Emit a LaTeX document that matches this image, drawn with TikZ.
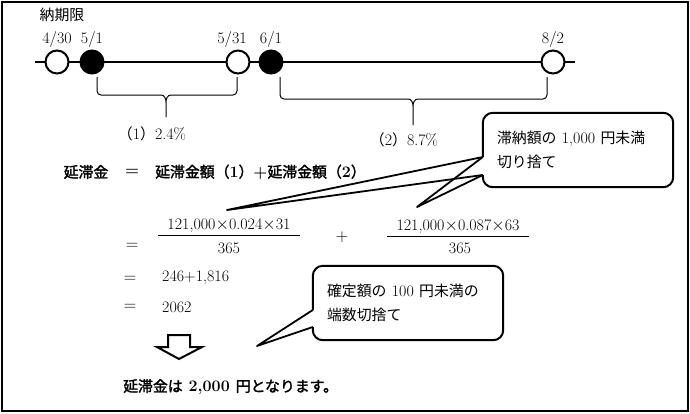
\documentclass[tikz,border=0pt]{standalone}
\usepackage{fontspec}
\usepackage{amsmath}
\usetikzlibrary{positioning, calc}
\newfontfamily\jp{Noto Sans CJK JP}[AutoFakeBold=2, Scale=0.93]

\begin{document}
\begin{tikzpicture}[x=1pt, y=-1pt,
  every node/.style={font=\fontsize{16}{18}\selectfont, inner sep=2pt},
  bold/.style={font=\fontsize{16}{18}\selectfont\bfseries},
  openday/.style={circle, draw, line width=2pt, fill=white, minimum size=23pt, inner sep=0pt},
  fullday/.style={openday, fill=black},
  note/.style={font=\fontsize{16}{24}\selectfont, align=left, text width=162pt, inner sep=14pt, minimum height=74pt},
  callout/.style={line width=2pt, rounded corners=10pt},
  pointer/.style={line width=1.8pt, line join=round}]
\useasboundingbox (0,0) rectangle (690,413);
% frame
\draw[line width=2.2pt] (2,2) rectangle (688,411);
% time line
\coordinate (tstart) at (35,62);
\coordinate (tend) at (575,62);
\draw[line width=1.8pt] (tstart) -- (tend);
\node[openday] (d430) at (57,62) {};
\node[fullday] (d501) at (92,62) {};
\node[openday] (d531) at (238,62) {};
\node[fullday] (d601) at (271,62) {};
\node[openday] (d802) at (553,62) {};
\node[above=0pt of d430] (l430) {4/30};
\node[above=0pt of d501] (l501) {5/1};
\node[above=0pt of d531, xshift=-6pt] (l531) {5/31};
\node[above=0pt of d601] (l601) {6/1};
\node[above=0pt of d802] (l802) {8/2};
\node (due) at (62,15) {\jp 納期限};
% periods
\draw[line width=1pt] (97,77) -- (97,91) to[out=-90,in=180] (101,95) -- (161,95) to[out=0,in=90] (166,102) -- (166,117) coordinate (b1m)
  (166,102) to[out=90,in=180] (171,95) -- (233,95) to[out=0,in=-90] (237,91) -- (237,77);
\node (rate1) at (152,134) {{\jp （}1{\jp ）}2.4\%};
\draw[line width=1pt] (280,77) -- (280,95) to[out=-90,in=180] (284,99) -- (408,99) to[out=0,in=90] (413,106) -- (413,125) coordinate (b2m)
  (413,106) to[out=90,in=180] (418,99) -- (543,99) to[out=0,in=-90] (547,95) -- (547,77);
\node (rate2) at (404,140) {{\jp （}2{\jp ）}8.7\%};
% calculation
\node[bold] (lhs) at (86,172) {\jp 延滞金};
\node[bold] (eq0) at (132,172) {=};
\node[bold, anchor=west] (rhs) at (153,172) {{\jp 延滞金額（}1{\jp ）}+{\jp 延滞金額（}2{\jp ）}};
\node (eq1) at (132,246) {$=$};
\node (num1) at (229,226) {121,000$\times$0.024$\times$31};
\node (den1) at (229,248) {365};
\draw[line width=1pt] ([xshift=-7pt]num1.south west) -- ([xshift=7pt]num1.south east);
\node (plus) at (342,237) {$+$};
\node (num2) at (458,227) {121,000$\times$0.087$\times$63};
\node (den2) at (460,248) {365};
\draw[line width=1pt] ([xshift=-7pt]num2.south west) -- ([xshift=7pt]num2.south east);
\node (eq2) at (130,279) {$=$};
\node[anchor=west] (sum) at (160,278) {246+1,816};
\node (eq3) at (130,307) {$=$};
\node[anchor=west] (res) at (160,307) {2062};
% down arrow
\draw[line width=2pt, line join=miter] (168,335) -- (190,335) -- (190,347) -- (202,347) -- (179,359) -- (157,347) -- (168,347) -- cycle;
\node[bold, anchor=west] (final) at (121,387) {{\jp 延滞金は} 2,000 {\jp 円となります。}};
% callouts
\node[note] (note1) at (578,150) {{\jp 滞納額の} 1,000 {\jp 円未満}\\{\jp 切り捨て}};
\coordinate (tip1) at (227,210);
\coordinate (tip2) at (417,207);
\draw[callout] ($(note1.west)+(0,25)$) -- (note1.south west) -- (note1.south east) -- (note1.north east) -- (note1.north west) -- ($(note1.west)+(0,7)$);
\draw[pointer] ($(note1.west)+(0,7)$) -- (tip1) -- ($(note1.west)+(0,25)$);
\draw[pointer] ($(note1.west)+(0,7)$) -- (tip2) -- ($(note1.west)+(0,25)$);
\node[note] (note2) at (408,303) {{\jp 確定額の} 100 {\jp 円未満の}\\{\jp 端数切捨て}};
\coordinate (tip3) at (257,346);
\draw[callout] ($(note2.west)+(0,24)$) -- (note2.south west) -- (note2.south east) -- (note2.north east) -- (note2.north west) -- ($(note2.west)+(0,7)$);
\draw[pointer] ($(note2.west)+(0,7)$) -- (tip3) -- ($(note2.west)+(0,24)$);
\end{tikzpicture}
\end{document}
